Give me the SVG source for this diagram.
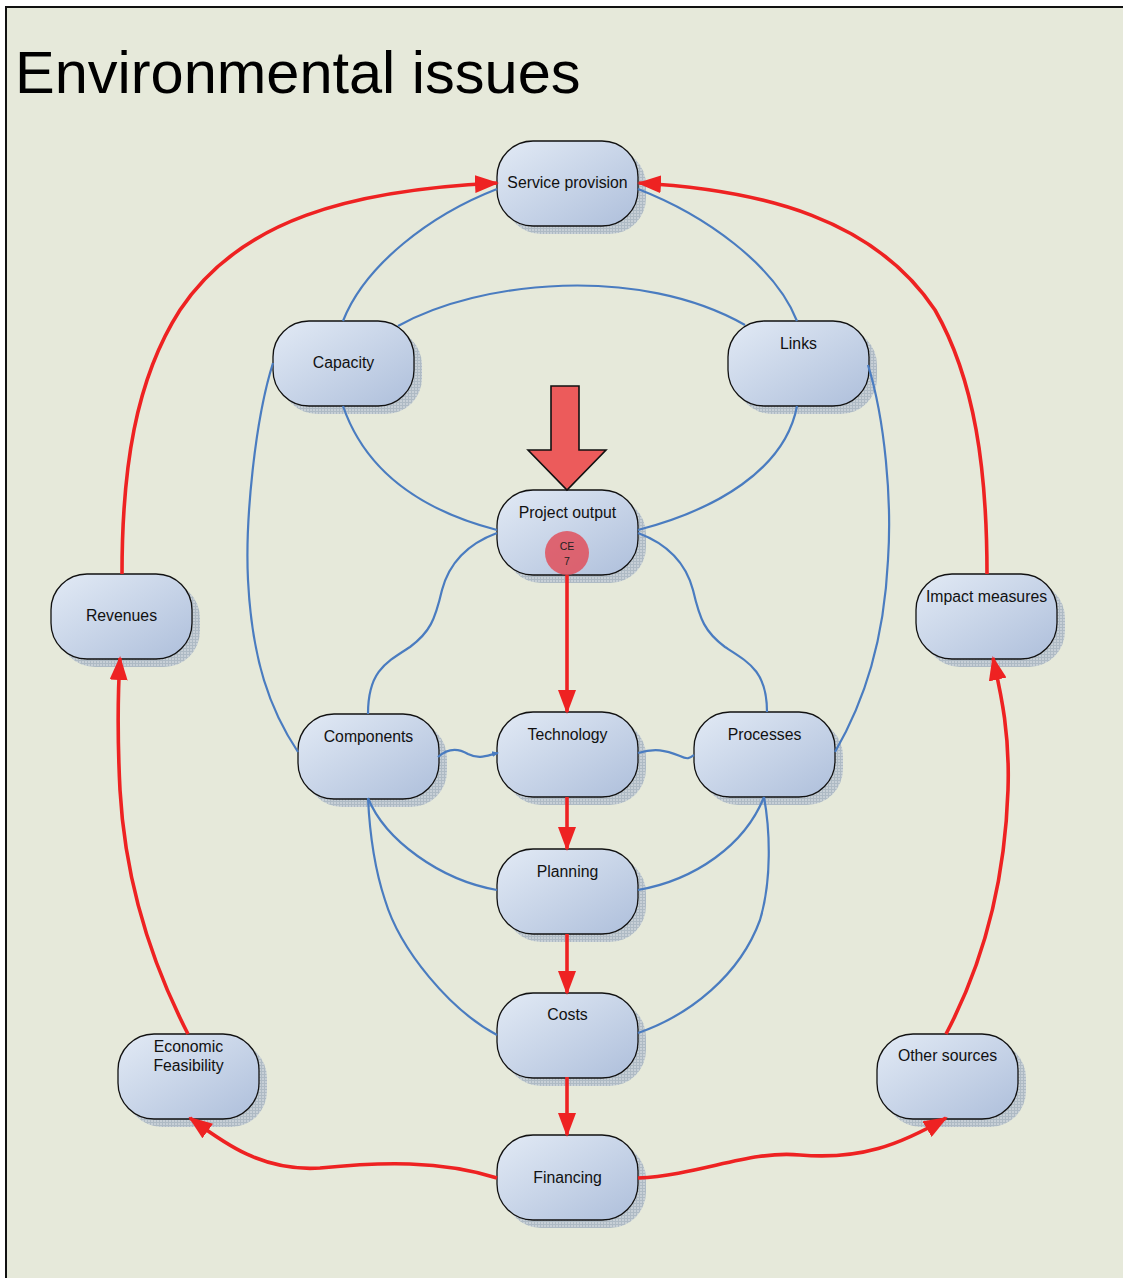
<svg xmlns="http://www.w3.org/2000/svg" width="1123" height="1278" viewBox="0 0 1123 1278">
  <defs>
    <linearGradient id="nodeFill" x1="0" y1="0" x2="1" y2="1">
      <stop offset="0" stop-color="#e2eaf5"/>
      <stop offset="1" stop-color="#aebfdb"/>
    </linearGradient>
    <pattern id="shadowHatch" width="3" height="3" patternUnits="userSpaceOnUse">
      <rect width="3" height="3" fill="#c3ccd5"/>
      <path d="M0,0.5 H3 M0.5,0 V3" stroke="#a8b5c2" stroke-width="1"/>
    </pattern>
    <marker id="redHead" markerUnits="userSpaceOnUse" markerWidth="24" markerHeight="18" refX="22" refY="9" orient="auto">
      <path d="M0,0 L24,9 L0,18 z" fill="#ee2222"/>
    </marker>
    <marker id="blueHead" markerUnits="userSpaceOnUse" markerWidth="8" markerHeight="8" refX="6" refY="4" orient="auto">
      <path d="M0,1 L7,4 L0,7 z" fill="#4a7cc0"/>
    </marker>
  </defs>
  <style>
    .shadow { fill: url(#shadowHatch); opacity: 0.9; }
    .box { fill: url(#nodeFill); stroke: #111; stroke-width: 1.3; }
    .label { font-family: "Liberation Sans", Arial, sans-serif; font-size: 15.8px; fill: #111; text-anchor: middle; }
    .blue { fill: none; stroke: #4a7cc0; stroke-width: 2.2; }
    .red { fill: none; stroke: #ee2222; stroke-width: 3.6; marker-end: url(#redHead); }
  </style>

  <!-- page frame -->
  <rect x="0" y="0" width="1123" height="1278" fill="#ffffff"/>
  <rect x="6" y="7" width="1117" height="1271" fill="#e6e9da"/>
  <path d="M6,1278 V7 H1123" fill="none" stroke="#111" stroke-width="2"/>

  <text x="15" y="93" font-family="Liberation Sans, Arial, sans-serif" font-size="59.5" fill="#000">Environmental issues</text>

  <g id="service-provision">
    <rect class="shadow" x="505" y="149" width="141" height="85" rx="36"/>
    <rect class="box" x="497" y="141" width="141" height="85" rx="36"/>
    <text class="label" x="567.5" y="188">Service provision</text>
  </g>
  <g id="capacity">
    <rect class="shadow" x="281" y="329" width="141" height="85" rx="36"/>
    <rect class="box" x="273" y="321" width="141" height="85" rx="36"/>
    <text class="label" x="343.5" y="368">Capacity</text>
  </g>
  <g id="links">
    <rect class="shadow" x="736" y="329" width="141" height="85" rx="36"/>
    <rect class="box" x="728" y="321" width="141" height="85" rx="36"/>
    <text class="label" x="798.5" y="349">Links</text>
  </g>
  <g id="project-output">
    <rect class="shadow" x="505" y="498" width="141" height="85" rx="36"/>
    <rect class="box" x="497" y="490" width="141" height="85" rx="36"/>
    <text class="label" x="567.5" y="518">Project output</text>
  </g>
  <g id="revenues">
    <rect class="shadow" x="59" y="582" width="141" height="85" rx="36"/>
    <rect class="box" x="51" y="574" width="141" height="85" rx="36"/>
    <text class="label" x="121.5" y="621">Revenues</text>
  </g>
  <g id="impact-measures">
    <rect class="shadow" x="924" y="582" width="141" height="85" rx="36"/>
    <rect class="box" x="916" y="574" width="141" height="85" rx="36"/>
    <text class="label" x="986.5" y="602">Impact measures</text>
  </g>
  <g id="components">
    <rect class="shadow" x="306" y="722" width="141" height="85" rx="36"/>
    <rect class="box" x="298" y="714" width="141" height="85" rx="36"/>
    <text class="label" x="368.5" y="742">Components</text>
  </g>
  <g id="technology">
    <rect class="shadow" x="505" y="720" width="141" height="85" rx="36"/>
    <rect class="box" x="497" y="712" width="141" height="85" rx="36"/>
    <text class="label" x="567.5" y="740">Technology</text>
  </g>
  <g id="processes">
    <rect class="shadow" x="702" y="720" width="141" height="85" rx="36"/>
    <rect class="box" x="694" y="712" width="141" height="85" rx="36"/>
    <text class="label" x="764.5" y="740">Processes</text>
  </g>
  <g id="planning">
    <rect class="shadow" x="505" y="857" width="141" height="85" rx="36"/>
    <rect class="box" x="497" y="849" width="141" height="85" rx="36"/>
    <text class="label" x="567.5" y="877">Planning</text>
  </g>
  <g id="costs">
    <rect class="shadow" x="505" y="1001" width="141" height="85" rx="36"/>
    <rect class="box" x="497" y="993" width="141" height="85" rx="36"/>
    <text class="label" x="567.5" y="1020">Costs</text>
  </g>
  <g id="economic-feasibility">
    <rect class="shadow" x="126" y="1042" width="141" height="85" rx="36"/>
    <rect class="box" x="118" y="1034" width="141" height="85" rx="36"/>
    <text class="label" x="188.5" y="1052">Economic</text>
    <text class="label" x="188.5" y="1071">Feasibility</text>
  </g>
  <g id="other-sources">
    <rect class="shadow" x="885" y="1042" width="141" height="85" rx="36"/>
    <rect class="box" x="877" y="1034" width="141" height="85" rx="36"/>
    <text class="label" x="947.5" y="1061">Other sources</text>
  </g>
  <g id="financing">
    <rect class="shadow" x="505" y="1143" width="141" height="85" rx="36"/>
    <rect class="box" x="497" y="1135" width="141" height="85" rx="36"/>
    <text class="label" x="567.5" y="1183">Financing</text>
  </g>

  <!-- links between the boxes, drawn over the box shadows -->
  <g id="connectors">
    <path class="blue" d="M497,189 C430,215 365,265 343,321"/>
    <path class="blue" d="M638,189 C705,215 775,265 797,321"/>
    <path class="blue" d="M398,326 C480,280 640,265 745,325"/>
    <path class="blue" d="M343,406 C365,470 420,510 497,530"/>
    <path class="blue" d="M797,406 C785,470 715,510 638,530"/>
    <path class="blue" d="M273,363 C255,420 245,520 248,580 C252,660 270,710 298,752"/>
    <path class="blue" d="M868,365 C885,420 892,500 888,560 C884,640 865,700 835,752"/>
    <path class="blue" d="M497,533 C470,543 450,560 442,590 C435,620 430,632 410,647 C385,663 368,672 368,714"/>
    <path class="blue" d="M638,533 C665,543 685,560 693,590 C700,620 705,632 725,647 C750,663 767,672 767,712"/>
    <path class="blue" d="M438,757 C448,748 458,748 468,754 C480,760 488,755 498,753" marker-end="url(#blueHead)"/>
    <path class="blue" d="M638,753 C655,748 665,750 680,756 C688,760 690,758 694,755"/>
    <path class="blue" d="M368,798 C385,840 440,880 497,890"/>
    <path class="blue" d="M764,797 C745,845 695,880 638,890"/>
    <path class="blue" d="M368,798 C370,840 375,870 385,900 C400,950 450,1010 497,1035"/>
    <path class="blue" d="M764,797 C770,830 772,880 760,920 C740,975 690,1015 638,1033"/>

    <path class="red" d="M122,574 C122,470 135,380 180,310 C240,220 350,190 497,183"/>
    <path class="red" d="M987,574 C987,470 975,380 935,310 C875,220 765,190 639,183"/>
    <path class="red" d="M188,1034 C150,960 125,880 120,790 C117,730 118,690 120,658"/>
    <path class="red" d="M946,1034 C985,960 1005,880 1008,790 C1010,730 1000,690 993,658"/>
    <path class="red" d="M497,1178 C440,1160 380,1162 320,1168 C260,1172 220,1140 190,1118"/>
    <path class="red" d="M638,1178 C700,1175 750,1150 800,1155 C860,1160 900,1145 946,1118"/>
    <path class="red" d="M567,575 V712"/>
    <path class="red" d="M567,797 V849"/>
    <path class="red" d="M567,934 V993"/>
    <path class="red" d="M567,1077 V1135"/>
  </g>

  <!-- focus arrow and marker on Project output -->
  <g id="focus-arrow">
    <polygon points="551,386 579,386 579,450 606,450 567,490 528,450 551,450" fill="#ec5b5b" stroke="#111" stroke-width="1.6" stroke-linejoin="miter"/>
  </g>
  <g id="ce-marker">
    <circle cx="567" cy="553" r="22" fill="#e0505c" opacity="0.85"/>
    <text x="567" y="550" font-family="Liberation Sans, Arial, sans-serif" font-size="10.5" fill="#222" text-anchor="middle">CE</text>
    <text x="567" y="565" font-family="Liberation Sans, Arial, sans-serif" font-size="10.5" fill="#222" text-anchor="middle">7</text>
  </g>
</svg>
